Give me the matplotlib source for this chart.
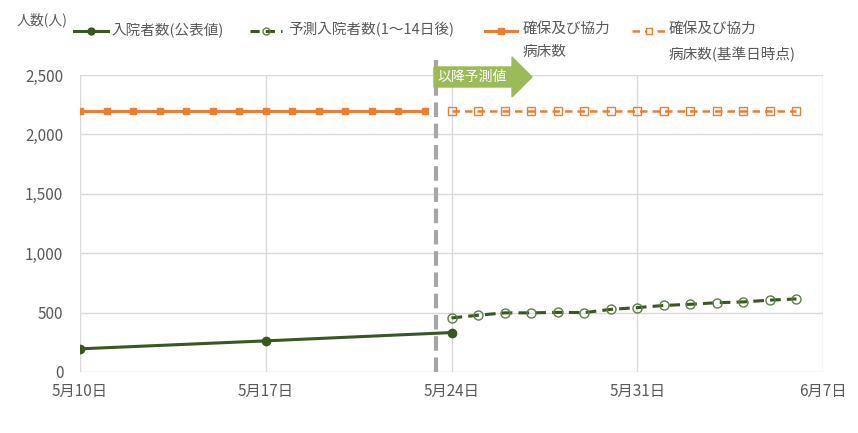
import numpy as np
import matplotlib
matplotlib.use("Agg")
import matplotlib.pyplot as plt
from matplotlib.lines import Line2D
from matplotlib.patches import Polygon

plt.rcParams['font.family'] = ['Noto Sans CJK JP', 'DejaVu Sans']

# ---- data ----
start = np.datetime64('2020-05-10')
actual_dates = np.array(['2020-05-10', '2020-05-17', '2020-05-24'], dtype='datetime64[D]')
actual_values = [195, 262, 332]

forecast_dates = np.arange(np.datetime64('2020-05-24'), np.datetime64('2020-06-07'))
forecast_values = [455, 478, 498, 498, 502, 500, 527, 542, 560, 570, 583, 590, 605, 615]

beds_dates = np.arange(np.datetime64('2020-05-10'), np.datetime64('2020-05-24'))
beds_values = [2200] * 14
beds_fc_dates = np.arange(np.datetime64('2020-05-24'), np.datetime64('2020-06-07'))
beds_fc_values = [2200] * 14

tick_dates = np.array(['2020-05-10', '2020-05-17', '2020-05-24', '2020-05-31', '2020-06-07'], dtype='datetime64[D]')
tick_labels = ['5月10日', '5月17日', '5月24日', '5月31日', '6月7日']
y_ticks = [0, 500, 1000, 1500, 2000, 2500]
y_tick_labels = ['0', '500', '1,000', '1,500', '2,000', '2,500']

legend_labels = ['入院者数(公表値)', '予測入院者数(1～14日後)', '確保及び協力\n病床数', '確保及び協力\n病床数(基準日時点)']
forecast_start_day = 13.4  # boundary line position (days after 5/10)

def d(x):
    return (np.asarray(x, dtype='datetime64[D]') - start).astype(float)

GREEN = '#385723'
ORANGE = '#ED7D31'
TXT = '#595959'
GRID = '#D9D9D9'

fig = plt.figure(figsize=(8.58, 4.33), dpi=100)
ax = fig.add_axes([80/858, 1-372/433, (823-80)/858, (372-75)/433])

ax.plot(d(beds_dates), beds_values, color=ORANGE, lw=2.2, marker='s', ms=5, zorder=3)
ax.plot(d(beds_fc_dates), beds_fc_values, color=ORANGE, lw=1.8, ls=(0, (3, 2)), marker='s', ms=6,
        mfc='none', mec=ORANGE, mew=1.0, zorder=3)
ax.plot(d(actual_dates), actual_values, color=GREEN, lw=2.2, marker='o', ms=6, zorder=3)
ax.plot(d(forecast_dates), forecast_values, color=GREEN, lw=2.2, ls=(0, (3.5, 2)), marker='o', ms=6.5,
        mfc='none', mec='#5E7F45', mew=1.0, zorder=3)

ax.set_xlim(0, 28)
ax.set_ylim(0, 2500)
ax.set_xticks(d(tick_dates))
ax.set_xticklabels(tick_labels)
ax.set_yticks(y_ticks)
ax.set_yticklabels(y_tick_labels)
ax.tick_params(length=0, labelsize=11, colors=TXT)
ax.tick_params(axis='x', pad=8)
ax.tick_params(axis='y', pad=12)
ax.grid(True, color=GRID, lw=1)
ax.set_axisbelow(True)
for s in ax.spines.values():
    s.set_visible(False)

# boundary line
ax.axvline(forecast_start_day, ymin=0, ymax=(372-58)/(372-75), color='#A6A6A6', lw=3,
           ls=(0, (3.5, 1.6)), clip_on=False, zorder=2)

# arrow label
px = lambda v: (v - 80) / ((823 - 80) / 28)
py = lambda v: (372 - v) / ((372 - 75) / 2500)
arrow = Polygon([[px(434), py(67)], [px(512), py(67)], [px(512), py(57)], [px(532), py(77)],
                 [px(512), py(97)], [px(512), py(87)], [px(434), py(87)]],
                closed=True, color='#9BBB59', clip_on=False, zorder=4)
ax.add_patch(arrow)
ax.text(px(472), py(77), '以降予測値', color='white', fontsize=10, ha='center', va='center', zorder=5)

# legend (manual)
fig.text(17/858, 1-20/433, '人数(人)', color=TXT, fontsize=10, ha='left', va='center')
row = 1 - 31/433
fig.add_artist(Line2D([74/858, 108/858], [row, row], color=GREEN, lw=2.2))
fig.add_artist(Line2D([91/858], [row], color=GREEN, marker='o', ms=5, ls='none'))
fig.add_artist(Line2D([250/858, 282/858], [row, row], color=GREEN, lw=2.2, ls=(0, (3, 2))))
fig.add_artist(Line2D([266/858], [row], color=GREEN, marker='o', ms=5, mfc='none', mec='#5E7F45', ls='none'))
fig.add_artist(Line2D([485/858, 517/858], [row, row], color=ORANGE, lw=2.2))
fig.add_artist(Line2D([501/858], [row], color=ORANGE, marker='s', ms=5, ls='none'))
fig.add_artist(Line2D([632/858, 666/858], [row, row], color=ORANGE, lw=1.8, ls=(0, (3, 2))))
fig.add_artist(Line2D([649/858], [row], color=ORANGE, marker='s', ms=5, mfc='white', mec=ORANGE, mew=1, ls='none'))

xs = [112, 288, 523, 669]
for x, lab in zip(xs, legend_labels):
    fig.text(x/858, row + 9/433, lab, color=TXT, fontsize=10.5, ha='left', va='top', linespacing=1.85)

fig.savefig('out.png', dpi=100)
